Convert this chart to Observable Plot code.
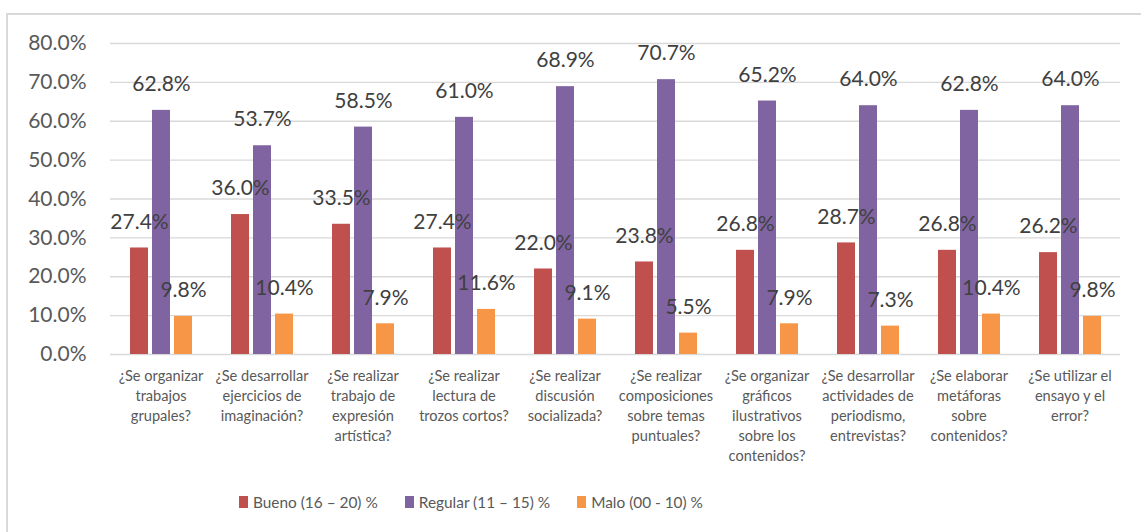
<!DOCTYPE html>
<html>
<head>
<meta charset="utf-8">
<script src="https://cdn.jsdelivr.net/npm/d3@7"></script>
<script src="https://cdn.jsdelivr.net/npm/@observablehq/plot@0.6"></script>
<style>
  html, body { margin: 0; padding: 0; background: #fff; }
  body { width: 1141px; height: 532px; position: relative; overflow: hidden; font-family: Lato, "Open Sans", sans-serif; }
  #frame { position: absolute; left: 6px; top: 13px; width: 1160px; height: 560px; border: 2px solid #d9d9d9; box-sizing: border-box; }
  #chart { position: absolute; left: 0; top: 0; }
  #legend { position: absolute; left: 239px; top: 490px; height: 24px; display: flex; align-items: center; font-size: 15.4px; color: #595959; }
  .item { display: flex; align-items: center; margin-right: 27px; }
  .sw { width: 9px; height: 12px; margin-right: 5px; }
</style>
</head>
<body>
<div id="frame"></div>
<div id="chart"></div>
<div id="legend"></div>
<script>
const categories = [
  "¿Se organizar\ntrabajos\ngrupales?",
  "¿Se desarrollar\nejercicios de\nimaginación?",
  "¿Se realizar\ntrabajo de\nexpresión\nartística?",
  "¿Se realizar\nlectura de\ntrozos cortos?",
  "¿Se realizar\ndiscusión\nsocializada?",
  "¿Se realizar\ncomposiciones\nsobre temas\npuntuales?",
  "¿Se organizar\ngráficos\nilustrativos\nsobre los\ncontenidos?",
  "¿Se desarrollar\nactividades de\nperiodismo,\nentrevistas?",
  "¿Se elaborar\nmetáforas\nsobre\ncontenidos?",
  "¿Se utilizar el\nensayo y el\nerror?"
];
const seriesNames = ["Bueno (16 – 20) %", "Regular (11 – 15) %", "Malo (00 - 10) %"];
const bueno   = [27.4, 36.0, 33.5, 27.4, 22.0, 23.8, 26.8, 28.7, 26.8, 26.2];
const regular = [62.8, 53.7, 58.5, 61.0, 68.9, 70.7, 65.2, 64.0, 62.8, 64.0];
const malo    = [9.8, 10.4, 7.9, 11.6, 9.1, 5.5, 7.9, 7.3, 10.4, 9.8];
const colors  = ["#C0504D", "#8064A2", "#F79646"];
const yTicks  = [0, 10, 20, 30, 40, 50, 60, 70, 80];

const seriesValues = [bueno, regular, malo];
const rows = [];
categories.forEach((c, i) => {
  seriesNames.forEach((s, j) => rows.push({cat: c, series: s, value: seriesValues[j][i]}));
});
const pct = d => d.toFixed(1) + "%";

const plot = Plot.plot({
  width: 1141,
  height: 470,
  marginLeft: 106,
  marginRight: 18,
  marginTop: 43,
  marginBottom: 116,
  style: {fontFamily: "Lato, 'Open Sans', sans-serif", fontSize: "21px", color: "#595959", background: "transparent"},
  fx: {domain: categories, padding: 0, axis: null, label: null},
  x: {domain: seriesNames, paddingInner: 0.2, paddingOuter: 0.86, axis: null, label: null},
  y: {domain: [0, 80], axis: null, label: null},
  color: {domain: seriesNames, range: colors},
  marks: [
    Plot.gridY(yTicks, {stroke: "#d9d9d9", strokeOpacity: 1, strokeWidth: 1.4}),
    Plot.axisY(yTicks, {tickSize: 0, tickPadding: 24, tickFormat: pct, fontSize: 21, fill: "#595959", label: null}),
    Plot.barY(rows, {fx: "cat", x: "series", y: "value", fill: "series"}),
    Plot.text(rows, {fx: "cat", x: "series", y: "value", text: d => pct(d.value), dy: -26, fontSize: 21, fill: "#404040"}),
    Plot.text(categories, {fx: d => d, text: d => d, frameAnchor: "bottom", lineAnchor: "top", dy: 12, fontSize: 14.6, lineHeight: 20/14.6, fill: "#595959"})
  ]
});
document.getElementById("chart").appendChild(plot);

const legend = document.getElementById("legend");
seriesNames.forEach((s, j) => {
  const item = document.createElement("div");
  item.className = "item";
  const sw = document.createElement("div");
  sw.className = "sw";
  sw.style.background = colors[j];
  const t = document.createElement("span");
  t.textContent = s;
  item.appendChild(sw);
  item.appendChild(t);
  legend.appendChild(item);
});
</script>
</body>
</html>
